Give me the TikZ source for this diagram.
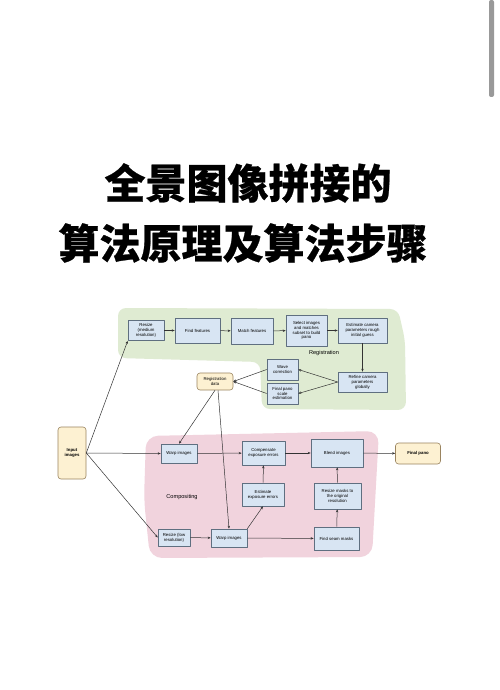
\documentclass[tikz,border=0pt]{standalone}
\usepackage{fontspec}
\setmainfont{Liberation Sans}
\newfontfamily\cjk{Noto Sans CJK SC}[BoldFeatures={FakeBold=0.6}]
\usetikzlibrary{arrows.meta}
\definecolor{regfill}{HTML}{DFEBD2}
\definecolor{compfill}{HTML}{F1D3DD}
\definecolor{boxfill}{HTML}{D8E5F3}
\definecolor{boxline}{HTML}{5F6F80}
\definecolor{datafill}{HTML}{FDF1D2}
\definecolor{dataline}{HTML}{9A8460}
\tikzset{
	stepbox/.style={draw=boxline,fill=boxfill,line width=.6pt,align=center,inner sep=1pt,font=\fontsize{4.3}{4.9}\selectfont},
	databox/.style={draw=dataline,fill=datafill,line width=.6pt,rounded corners=3pt,align=center,inner sep=1pt,font=\fontsize{4.3}{4.9}\selectfont},
	flow/.style={-{Stealth[length=3pt,width=2.4pt]},line width=.5pt,draw=black!80},
}
\begin{document}
\begin{tikzpicture}[x=1pt,y=-1pt,line join=round]
	\useasboundingbox (0,0) rectangle (500,690);
	\fill[white] (0,0) rectangle (500,690);
	\fill[black!40,rounded corners=2pt] (489,0) rectangle (494,97);
	% title
	\node[font=\cjk\bfseries\fontsize{41}{41}\selectfont] (title1) at (248,183) {全景图像拼接的};
	\node[font=\cjk\bfseries\fontsize{41}{41}\selectfont] (title2) at (243,243) {算法原理及算法步骤};
	% regions
	\fill[regfill,rounded corners=8pt] (118,308)--(398,309)--(405,340)--(406,410)--(262,409)--(260,362)--(118,358)--cycle;
	\fill[compfill,rounded corners=12pt] (146,436)--(379,431)--(372,557)--(150,558)--(144,500)--cycle;
	\node[font=\fontsize{5.6}{6}\selectfont] (reglabel) at (324,353) {Registration};
	\node[font=\fontsize{5.6}{6}\selectfont] (complabel) at (182,497) {Compositing};
	% registration
	\node[stepbox,minimum width=36pt,minimum height=20pt] (resizemed) at (146,330.5) {Resize\\(medium\\resolution)};
	\node[stepbox,minimum width=45pt,minimum height=25pt] (findfeat) at (197.5,330.5) {Find features};
	\node[stepbox,minimum width=42pt,minimum height=26pt] (matchfeat) at (252,331) {Match features};
	\node[stepbox,minimum width=41pt,minimum height=31pt] (selectimg) at (306.5,330.5) {Select images\\and matches\\subset to build\\pano};
	\node[stepbox,minimum width=49pt,minimum height=25pt] (estcam) at (362.5,330.5) {Estimate camera\\parameters rough\\initial guess};
	\node[stepbox,minimum width=49pt,minimum height=20pt] (refine) at (362.5,382) {Refine camera\\parameters\\globally};
	\node[stepbox,minimum width=31pt,minimum height=21pt] (wave) at (282.5,369.5) {Wave\\correction};
	\node[stepbox,minimum width=31pt,minimum height=21pt] (panoscale) at (282.5,393.5) {Final pano\\scale\\estimation};
	\node[databox,minimum width=36pt,minimum height=17pt] (regdata) at (215,381.5) {Registration\\data};
	% compositing
	\node[databox,minimum width=28pt,minimum height=52pt] (input) at (72,453) {\textbf{Input}\\\textbf{images}};
	\node[stepbox,minimum width=36pt,minimum height=19pt] (warptop) at (179,453.5) {Warp images};
	\node[stepbox,minimum width=43pt,minimum height=24pt] (compexp) at (263.5,453) {Compensate\\exposure errors};
	\node[stepbox,minimum width=52pt,minimum height=28pt] (blend) at (337,453) {Blend images};
	\node[databox,minimum width=45pt,minimum height=21pt] (finalpano) at (418,453.5) {\textbf{Final pano}};
	\node[stepbox,minimum width=42pt,minimum height=23pt] (estexp) at (263,494.5) {Estimate\\exposure errors};
	\node[stepbox,minimum width=47pt,minimum height=26pt] (resizemask) at (337.5,496) {Resize masks to\\the original\\resolution};
	\node[stepbox,minimum width=32pt,minimum height=17pt] (resizelow) at (174,537.5) {Resize (low\\resolution)};
	\node[stepbox,minimum width=36pt,minimum height=18pt] (warpbot) at (229,538) {Warp images};
	\node[stepbox,minimum width=45pt,minimum height=23pt] (findseam) at (336.5,538.5) {Find seam masks};
	% connectors
	\draw[flow] (input.east) -- (resizemed.south west);
	\draw[flow] (input.east) -- (warptop.west);
	\draw[flow] (input.east) -- (resizelow.west);
	\draw[flow] (resizemed) -- (findfeat);
	\draw[flow] (findfeat) -- (matchfeat);
	\draw[flow] (matchfeat) -- (selectimg);
	\draw[flow] (selectimg) -- (estcam);
	\draw[flow] (estcam) -- (refine);
	\draw[flow] (refine.west) -- (wave.east);
	\draw[flow] (refine.west) -- (panoscale.east);
	\draw[flow] (wave.west) -- (regdata.east);
	\draw[flow] (panoscale.west) -- (regdata.east);
	\draw[flow] (regdata.south) -- (warptop.north);
	\draw[flow] ([xshift=3pt]regdata.south) -- (warpbot.north);
	\draw[flow] (warptop) -- (compexp);
	\draw[flow] (compexp) -- (blend);
	\draw[flow] (blend) -- (finalpano);
	\draw[flow] (estexp) -- (compexp);
	\draw[flow] (resizelow) -- (warpbot);
	\draw[flow] (warpbot.north east) -- (estexp.south);
	\draw[flow] (warpbot) -- (findseam);
	\draw[flow] (findseam) -- (resizemask);
	\draw[flow] (resizemask) -- (blend);
\end{tikzpicture}
\end{document}
